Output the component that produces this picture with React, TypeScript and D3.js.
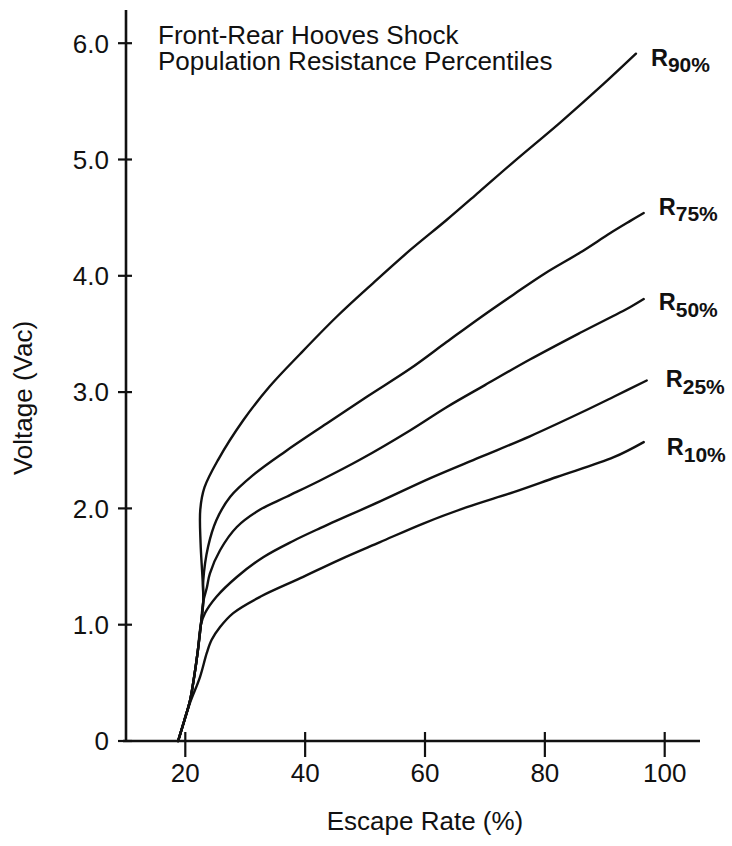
import React from 'react';
import * as d3 from 'd3';

// axis ticks
const xTicks = [20, 40, 60, 80, 100];
const yTicks = [0, 1, 2, 3, 4, 5, 6];
const yTickLabels = ['0', '1.0', '2.0', '3.0', '4.0', '5.0', '6.0'];

const titleLines = ['Front-Rear Hooves Shock', 'Population Resistance Percentiles'];

// shared steep start of the curves: [escape rate %, voltage]
const trunk: [number, number][] = [
  [18.8, 0], [19.8, 0.17], [20.8, 0.35], [21.5, 0.56], [22.1, 0.78], [22.6, 1.0],
];

const r10: [number, number][] = [
  [18.8, 0], [20.0, 0.2], [20.8, 0.33], [22.45, 0.55], [23.6, 0.76], [24.4, 0.87],
  [25.8, 0.98], [28.0, 1.1], [32.5, 1.24], [39.2, 1.4], [45.8, 1.56], [52.5, 1.71],
  [59.7, 1.87], [67.0, 2.01], [74.8, 2.14], [82.0, 2.27], [91.5, 2.44], [96.5, 2.57],
];

const r25: [number, number][] = [
  ...trunk,
  [23.3, 1.1], [25.2, 1.24], [28.6, 1.41], [33.0, 1.58], [38.0, 1.72], [42.5, 1.83],
  [52.5, 2.06], [60.9, 2.26], [69.2, 2.44], [77.5, 2.62], [85.9, 2.82], [91.5, 2.96], [97.0, 3.1],
];

const r50: [number, number][] = [
  ...trunk,
  [23.0, 1.2], [23.6, 1.32], [24.1, 1.44], [25.8, 1.64], [28.6, 1.84], [32.5, 1.99],
  [36.9, 2.1], [42.5, 2.24], [49.2, 2.42], [57.5, 2.67], [63.6, 2.87], [70.0, 3.06],
  [77.5, 3.28], [85.9, 3.51], [94.2, 3.73], [96.5, 3.8],
];

const r75: [number, number][] = [
  ...trunk,
  [23.0, 1.2], [23.0, 1.38], [23.8, 1.67], [25.2, 1.9], [27.5, 2.1], [31.4, 2.29],
  [36.7, 2.49], [43.6, 2.73], [50.3, 2.96], [57.5, 3.2], [63.6, 3.43], [69.2, 3.64],
  [74.8, 3.84], [80.0, 4.02], [85.9, 4.2], [91.0, 4.37], [94.2, 4.47], [96.5, 4.54],
];

const r90: [number, number][] = [
  ...trunk,
  [23.0, 1.2], [22.9, 1.37], [22.55, 1.7], [22.5, 1.99], [23.2, 2.18], [25.5, 2.42],
  [29.7, 2.76], [34.1, 3.05], [39.2, 3.33], [45.3, 3.65], [51.4, 3.94], [57.5, 4.22],
  [63.6, 4.48], [69.0, 4.72], [74.8, 4.98], [82.6, 5.32], [89.8, 5.65], [95.2, 5.91],
];

const seriesData = [r10, r25, r50, r75, r90];
const seriesLabels = ['10%', '25%', '50%', '75%', '90%'];
// label offset from curve end, px
const labelOffsets = [[23, 13], [19, 7], [15, 11], [15, 2], [15, 12]];

const W = 732;
const H = 846;
const font = 'Liberation Sans, Arial, Helvetica, sans-serif';

export default function App() {
  const x = d3.scaleLinear().domain([20, 100]).range([185.3, 664.7]);
  const y = d3.scaleLinear().domain([0, 6]).range([741, 43.2]);

  const line = d3
    .line<[number, number]>()
    .x(d => x(d[0]))
    .y(d => y(d[1]))
    .curve(d3.curveCatmullRom.alpha(0.5));

  const axisX = 126;
  const axisY = y(0);

  return (
    <svg
      width={W}
      height={H}
      style={{ position: 'absolute', left: 0, top: 0, background: '#fff' }}
      fontFamily={font}
    >
      <rect width={W} height={H} fill="#fff" />

      {/* curves */}
      {seriesData.map((d, i) => (
        <path key={i} d={line(d) || ''} fill="none" stroke="#111" strokeWidth={2.4} strokeLinecap="round" strokeLinejoin="round" />
      ))}

      {/* curve labels */}
      {seriesData.map((d, i) => {
        const end = d[d.length - 1];
        const lx = x(end[0]) + labelOffsets[i][0];
        const ly = y(end[1]) + labelOffsets[i][1];
        return (
          <text key={i} x={lx} y={ly} fontWeight="bold" fontSize={23.5} fill="#111">
            R
            <tspan dy={6.5} fontSize={21}>{seriesLabels[i]}</tspan>
          </text>
        );
      })}

      {/* axes */}
      <line x1={axisX} x2={axisX} y1={10} y2={axisY + 1} stroke="#111" strokeWidth={2.6} />
      <line x1={123} x2={700} y1={axisY} y2={axisY} stroke="#111" strokeWidth={2.6} />

      {yTicks.map((t, i) => (
        <g key={t}>
          <line x1={118} x2={132} y1={y(t)} y2={y(t)} stroke="#111" strokeWidth={2.2} />
          <text x={109} y={y(t)} dy="0.36em" textAnchor="end" fontSize={26} fill="#111">
            {yTickLabels[i]}
          </text>
        </g>
      ))}

      {xTicks.map(t => (
        <g key={t}>
          <line x1={x(t)} x2={x(t)} y1={axisY - 9} y2={axisY + 16} stroke="#111" strokeWidth={2.2} />
          <text x={x(t)} y={782} textAnchor="middle" fontSize={26} fill="#111">
            {t}
          </text>
        </g>
      ))}

      {/* axis titles */}
      <text x={425} y={830} textAnchor="middle" fontSize={26} fill="#111">
        Escape Rate (%)
      </text>
      <text transform={`translate(32,398) rotate(-90)`} textAnchor="middle" fontSize={26} fill="#111">
        Voltage (Vac)
      </text>

      {/* chart title */}
      {titleLines.map((t, i) => (
        <text key={i} x={158} y={44 + i * 26} fontSize={26} fill="#111">
          {t}
        </text>
      ))}
    </svg>
  );
}
